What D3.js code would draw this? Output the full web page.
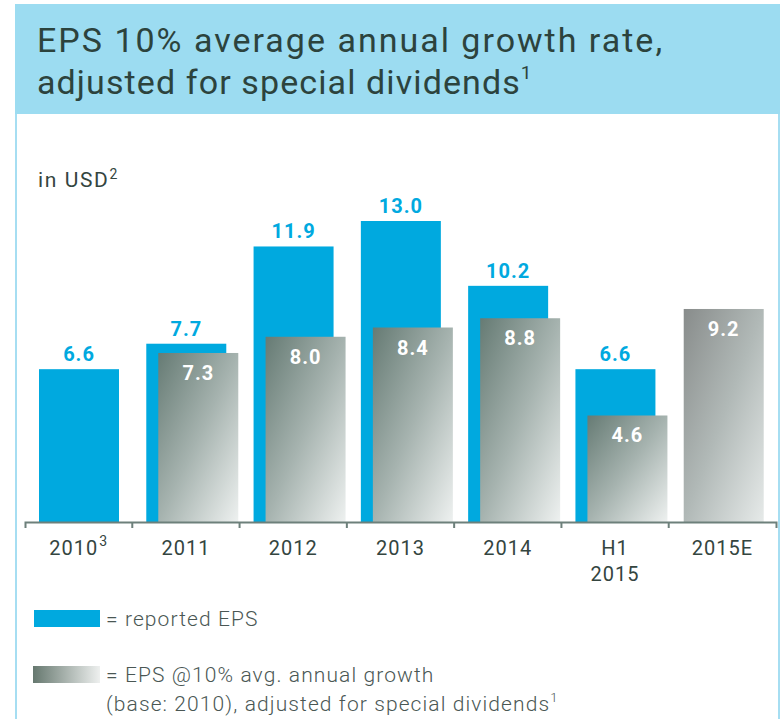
<!DOCTYPE html>
<html lang="en">
<head>
    <meta charset="UTF-8">
    <title>EPS growth</title>
    <style>
        body { margin: 0; background: #fff; }
        svg text { font-family: Roboto, "Liberation Sans", sans-serif; }
    </style>
</head>
<body>
    <div id="chart"></div>

    <script src="https://d3js.org/d3.v7.min.js"></script>
    <script>
        // values
        const categories = ['2010', '2011', '2012', '2013', '2014', 'H1 2015', '2015E']
        const reportedEps = [6.6, 7.7, 11.9, 13.0, 10.2, 6.6, null]
        const adjustedEps = [null, 7.3, 8.0, 8.4, 8.8, 4.6, 9.2]
        const tickLabels = [['2010'], ['2011'], ['2012'], ['2013'], ['2014'], ['H1', '2015'], ['2015E']]
        const tickNotes = ['3', '', '', '', '', '', '']

        const width = 782
        const height = 719
        const blue = '#00a9df'
        const textColor = '#34453f'

        const svg = d3.select('#chart')
            .append('svg')
            .attr('width', width)
            .attr('height', height)

        const defs = svg.append('defs')
        function gradient(id, stops, x2, y2) {
            const g = defs.append('linearGradient')
                .attr('id', id)
                .attr('x1', 0).attr('y1', 0)
                .attr('x2', x2).attr('y2', y2)
            stops.forEach(s => g.append('stop').attr('offset', s[0]).attr('stop-color', s[1]))
        }
        gradient('grey', [[0, '#667b74'], [0.5, '#a6b3af'], [1, '#eef1f0']], 1, 1)
        gradient('greyEst', [[0, '#888c8b'], [0.5, '#b1b9b7'], [1, '#e6eae9']], 1, 1)
        gradient('greyLegend', [[0, '#66786f'], [1, '#eef0ef']], 1, 0)

        // panel + title band
        svg.append('rect')
            .attr('x', 16).attr('y', 5)
            .attr('width', 763).attr('height', 730)
            .attr('fill', '#fff')
            .attr('stroke', '#a6def2')
            .attr('stroke-width', 2)
        svg.append('rect')
            .attr('x', 15).attr('y', 4)
            .attr('width', 765).attr('height', 110)
            .attr('fill', '#9cdcf1')

        const title = svg.append('text')
            .attr('fill', '#2c433d')
            .attr('font-size', 34)
            .attr('font-weight', 400)
        title.append('tspan').attr('x', 37).attr('y', 52).attr('letter-spacing', 2)
            .text('EPS 10% average annual growth rate,')
        title.append('tspan').attr('x', 37).attr('y', 94).attr('letter-spacing', 1.1)
            .text('adjusted for special dividends')
        title.append('tspan').attr('font-size', 19).attr('dy', -15).text('1')

        const unit = svg.append('text')
            .attr('x', 38).attr('y', 187)
            .attr('fill', textColor)
            .attr('font-size', 21)
            .attr('letter-spacing', 1.6)
        unit.append('tspan').text('in USD')
        unit.append('tspan').attr('font-size', 14).attr('dy', -8).text('2')

        // scales
        const x = d3.scaleBand()
            .domain(categories)
            .range([25, 776])
        const y = d3.scaleLinear()
            .domain([0, 13])
            .range([522, 221])

        const blueBars = categories.map((c, i) => ({ c, v: reportedEps[i] })).filter(d => d.v != null)
        const greyBars = categories.map((c, i) => ({ c, v: adjustedEps[i], solo: reportedEps[i] == null }))
            .filter(d => d.v != null)

        svg.selectAll('.blue')
            .data(blueBars)
            .enter()
            .append('rect')
            .attr('class', 'blue')
            .attr('x', d => x(d.c) + 14)
            .attr('y', d => y(d.v))
            .attr('width', 80)
            .attr('height', d => y(0) - y(d.v))
            .attr('fill', blue)

        svg.selectAll('.blue-label')
            .data(blueBars)
            .enter()
            .append('text')
            .attr('class', 'blue-label')
            .attr('x', d => x(d.c) + 54)
            .attr('y', d => y(d.v) - 8)
            .attr('text-anchor', 'middle')
            .attr('fill', blue)
            .attr('font-size', 20)
            .attr('font-weight', 700)
            .attr('letter-spacing', 1)
            .text(d => d3.format('.1f')(d.v))

        const gx = d => x(d.c) + (d.solo ? 15 : 26)
        svg.selectAll('.grey')
            .data(greyBars)
            .enter()
            .append('rect')
            .attr('class', 'grey')
            .attr('x', gx)
            .attr('y', d => y(d.v))
            .attr('width', 80)
            .attr('height', d => y(0) - y(d.v))
            .attr('fill', d => d.solo ? 'url(#greyEst)' : 'url(#grey)')

        svg.selectAll('.grey-label')
            .data(greyBars)
            .enter()
            .append('text')
            .attr('class', 'grey-label')
            .attr('x', d => gx(d) + 40)
            .attr('y', d => y(d.v) + 27)
            .attr('text-anchor', 'middle')
            .attr('fill', '#fff')
            .attr('font-size', 20)
            .attr('font-weight', 700)
            .attr('letter-spacing', 1)
            .text(d => d3.format('.1f')(d.v))

        // axis: baseline with ticks between the bands
        const axis = svg.append('g')
            .attr('transform', `translate(0, ${y(0)})`)
            .call(d3.axisBottom(x).tickSize(0).tickSizeOuter(6).tickFormat(''))
        axis.select('.domain').attr('stroke', '#6d807b').attr('stroke-width', 2)
        axis.selectAll('.boundary')
            .data(categories.slice(1))
            .enter()
            .append('line')
            .attr('class', 'boundary')
            .attr('x1', d => x(d)).attr('x2', d => x(d))
            .attr('y1', 0).attr('y2', 6)
            .attr('stroke', '#6d807b')
            .attr('stroke-width', 2)

        const labels = svg.selectAll('.tick-label')
            .data(categories)
            .enter()
            .append('text')
            .attr('class', 'tick-label')
            .attr('text-anchor', 'middle')
            .attr('fill', textColor)
            .attr('font-size', 20)
            .attr('letter-spacing', 1)
        labels.each(function (c, i) {
            const t = d3.select(this)
            const cx = x(c) + x.bandwidth() / 2
            tickLabels[i].forEach((line, j) => {
                t.append('tspan').attr('x', cx).attr('y', 555 + j * 26).text(line)
            })
            if (tickNotes[i]) {
                t.select('tspan').append('tspan')
                    .attr('font-size', 14).attr('dy', -9).attr('dx', 1)
                    .text(tickNotes[i])
            }
        })

        // legend
        svg.append('rect')
            .attr('x', 34).attr('y', 610).attr('width', 66).attr('height', 17)
            .attr('fill', blue)
        svg.append('text')
            .attr('x', 106).attr('y', 626)
            .attr('fill', '#4a5754')
            .attr('font-size', 21)
            .attr('font-weight', 300)
            .attr('letter-spacing', 1.1)
            .text('= reported EPS')

        svg.append('rect')
            .attr('x', 33).attr('y', 666).attr('width', 67).attr('height', 17)
            .attr('fill', 'url(#greyLegend)')
        const leg2 = svg.append('text')
            .attr('fill', '#4a5754')
            .attr('font-size', 21)
            .attr('font-weight', 300)
            .attr('letter-spacing', 1.1)
        leg2.append('tspan').attr('x', 106).attr('y', 682).text('= EPS @10% avg. annual growth')
        leg2.append('tspan').attr('x', 106).attr('y', 711).text('(base: 2010), adjusted for special dividends')
        leg2.append('tspan').attr('font-size', 13).attr('dy', -9).text('1')
    </script>
</body>
</html>
